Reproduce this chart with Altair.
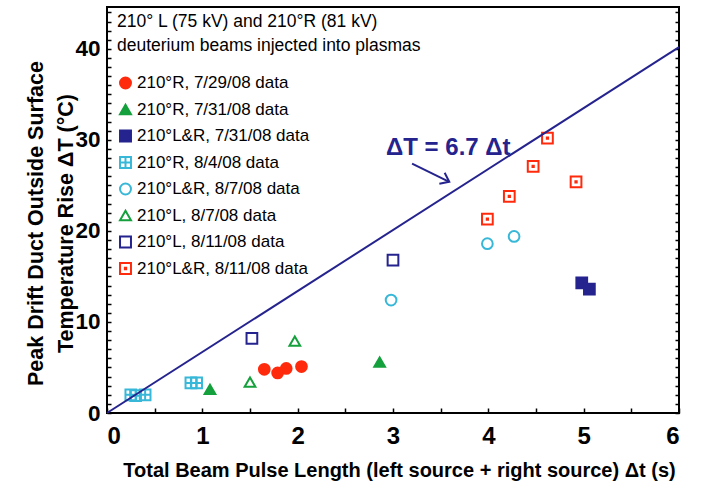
import altair as alt
import pandas as pd

# ---------------- data ----------------
series_names = [
    "210°R, 7/29/08 data",
    "210°R, 7/31/08 data",
    "210°L&R, 7/31/08 data",
    "210°R, 8/4/08 data",
    "210°L&R, 8/7/08 data",
    "210°L, 8/7/08 data",
    "210°L, 8/11/08 data",
    "210°L&R, 8/11/08 data",
]
r_0729_x = [1.65, 1.79, 1.88, 2.04]
r_0729_y = [4.8, 4.4, 4.9, 5.1]
r_0731_x = [1.08, 2.86]
r_0731_y = [2.6, 5.6]
lr_0731_x = [4.98, 5.06]
lr_0731_y = [14.3, 13.6]
r_0804_x = [0.25, 0.30, 0.40, 0.88, 0.94]
r_0804_y = [2.0, 1.9, 2.0, 3.3, 3.3]
lr_0807_x = [2.98, 3.99, 4.27]
lr_0807_y = [12.4, 18.6, 19.4]
l_0807_x = [1.50, 1.97]
l_0807_y = [3.4, 7.9]
l_0811_x = [1.52, 3.00]
l_0811_y = [8.2, 16.8]
lr_0811_x = [3.99, 4.22, 4.47, 4.62, 4.92]
lr_0811_y = [21.3, 23.8, 27.1, 30.2, 25.4]

fit_x = [0.0, 6.0]
fit_y = [0.0, 40.2]
fit_label = ["ΔT = 6.7 Δt"]
label_x = [3.58]
label_y = [29.1]
arrow_x = [3.20, 3.59]
arrow_y = [27.4, 25.4]

legend_title = ["210° L (75 kV) and 210°R (81 kV)", "deuterium beams injected into plasmas"]
x_title = "Total Beam Pulse Length (left source + right source) Δt (s)"
y_title = ["Peak Drift Duct Outside Surface", "Temperature Rise ΔT (°C)"]

# ---------------- styles ----------------
RED = "#ff2a0c"
GREEN = "#14a03c"
NAVY = "#25238e"
CYAN = "#38b8d8"
stroke_colors = [RED, GREEN, NAVY, CYAN, CYAN, GREEN, NAVY, RED]
fill_colors = [RED, GREEN, NAVY, "transparent", "transparent", "transparent", "transparent", "transparent"]
grid_sq = "M-1,-1H1V1H-1Z M0,-1V1 M-1,0H1"
dot_sq = "M-1,-1H1V1H-1Z M-0.12,-0.12H0.12V0.12H-0.12Z"
shapes = ["circle", "triangle-up", "square", grid_sq, "circle", "triangle-up", "square", dot_sq]

BIG = "Liberation Sans, Arial, sans-serif"
REG = "Liberation Sans, Arial, sans-serif"

W, H = 572, 406
XMAX, YMAX = 6, 44.6

# ---------------- tables ----------------
xs = [r_0729_x, r_0731_x, lr_0731_x, r_0804_x, lr_0807_x, l_0807_x, l_0811_x, lr_0811_x]
ys = [r_0729_y, r_0731_y, lr_0731_y, r_0804_y, lr_0807_y, l_0807_y, l_0811_y, lr_0811_y]
rows = []
for name, sx, sy in zip(series_names, xs, ys):
    for a, b in zip(sx, sy):
        rows.append({"x": a, "y": b, "series": name})
pts = pd.DataFrame(rows)
fit_df = pd.DataFrame({"x": fit_x, "y": fit_y})
arrow_df = pd.DataFrame({"x": arrow_x, "y": arrow_y})
head_df = pd.DataFrame({"x": arrow_x[-1:], "y": arrow_y[-1:]})
lab_df = pd.DataFrame({"x": label_x, "y": label_y, "t": fit_label})

xscale = alt.Scale(domain=[0, XMAX], nice=False, zero=False)
yscale = alt.Scale(domain=[0, YMAX], nice=False, zero=False)

legend = alt.Legend(
    title=legend_title, orient="none", legendX=10, legendY=6,
    titleFont=REG, titleFontSize=17.5, titleFontWeight="normal", titleColor="black",
    titleLineHeight=24, titlePadding=20, titleAnchor="start",
    labelFont=REG, labelFontSize=17, labelColor="black", labelOffset=3,
    symbolSize=120, symbolStrokeWidth=2, rowPadding=7.5, padding=0,
    labelLimit=400, titleLimit=500,
)

x_main = alt.Axis(values=[0, 1, 2, 3, 4, 5, 6], format="d", ticks=False, domain=False, grid=False,
                  labelFont=BIG, labelFontSize=24, labelFontWeight="bold", labelColor="black",
                  labelPadding=11, title=x_title, titleFont=BIG, titleFontSize=20,
                  titleFontWeight="bold", titleColor="black", titleBaseline="middle",
                  titleAlign="center", titleX=292, titleY=57)
y_main = alt.Axis(values=[0, 10, 20, 30, 40], format="d", ticks=False, domain=False, grid=False,
                  labelFont=BIG, labelFontSize=22.5, labelFontWeight="bold", labelColor="black",
                  labelPadding=7, title=y_title, titleFont=BIG, titleFontSize=21.5,
                  titleFontWeight="bold", titleColor="black", titleAngle=270,
                  titleBaseline="middle", titleAlign="center", titleLineHeight=30,
                  titleX=-71, titleY=216)

x_ticks_in = alt.Axis(orient="top", offset=-H, values=[i * 0.5 for i in range(13)], labels=False,
                      title=None, domain=False, grid=False, ticks=True, tickSize=5,
                      tickWidth=1.5, tickColor="black")
y_ticks_left_in = alt.Axis(orient="right", offset=-W, values=list(range(45)), labels=False,
                           title=None, domain=False, grid=False, ticks=True, tickSize=4,
                           tickWidth=1.5, tickColor="black")
y_ticks_right_in = alt.Axis(orient="left", offset=-W, values=list(range(45)), labels=False,
                            title=None, domain=False, grid=False, ticks=True, tickSize=4,
                            tickWidth=1.5, tickColor="black")

fit_line = alt.Chart(fit_df).mark_line(color=NAVY, strokeWidth=2).encode(
    x=alt.X("x:Q", scale=xscale, axis=x_ticks_in),
    y=alt.Y("y:Q", scale=yscale, axis=y_ticks_left_in),
)

arrow_line = alt.Chart(arrow_df).mark_line(color=NAVY, strokeWidth=2).encode(
    x=alt.X("x:Q", scale=xscale, axis=None),
    y=alt.Y("y:Q", scale=yscale, axis=y_ticks_right_in),
)

arrow_head = alt.Chart(head_df).mark_point(
    shape="M-1,-0.75L0,0L-1,0.75", size=260, angle=26, filled=False,
    stroke=NAVY, strokeWidth=2, opacity=1,
).encode(
    x=alt.X("x:Q", scale=xscale, axis=None),
    y=alt.Y("y:Q", scale=yscale, axis=None),
)

label = alt.Chart(lab_df).mark_text(
    font=REG, fontSize=24, fontWeight="bold", color=NAVY, align="center", baseline="middle"
).encode(
    x=alt.X("x:Q", scale=xscale, axis=None),
    y=alt.Y("y:Q", scale=yscale, axis=None),
    text="t:N",
)

points = alt.Chart(pts).mark_point(filled=False, size=115, strokeWidth=2, opacity=1).encode(
    x=alt.X("x:Q", scale=xscale, axis=x_main),
    y=alt.Y("y:Q", scale=yscale, axis=y_main),
    stroke=alt.Stroke("series:N", scale=alt.Scale(domain=series_names, range=stroke_colors), legend=legend),
    fill=alt.Fill("series:N", scale=alt.Scale(domain=series_names, range=fill_colors), legend=legend),
    shape=alt.Shape("series:N", scale=alt.Scale(domain=series_names, range=shapes), legend=legend),
)

chart = (
    alt.layer(points, fit_line, arrow_line, arrow_head, label)
    .resolve_axis(x="independent", y="independent")
    .properties(
        width=W, height=H,
        autosize=alt.AutoSizeParams(type="none"),
        padding={"left": 107, "top": 7, "right": 22, "bottom": 80},
        background="white",
    )
    .configure_view(stroke="black", strokeWidth=2)
)

chart.save("out.html", embed_options={"renderer": "svg", "actions": False})
